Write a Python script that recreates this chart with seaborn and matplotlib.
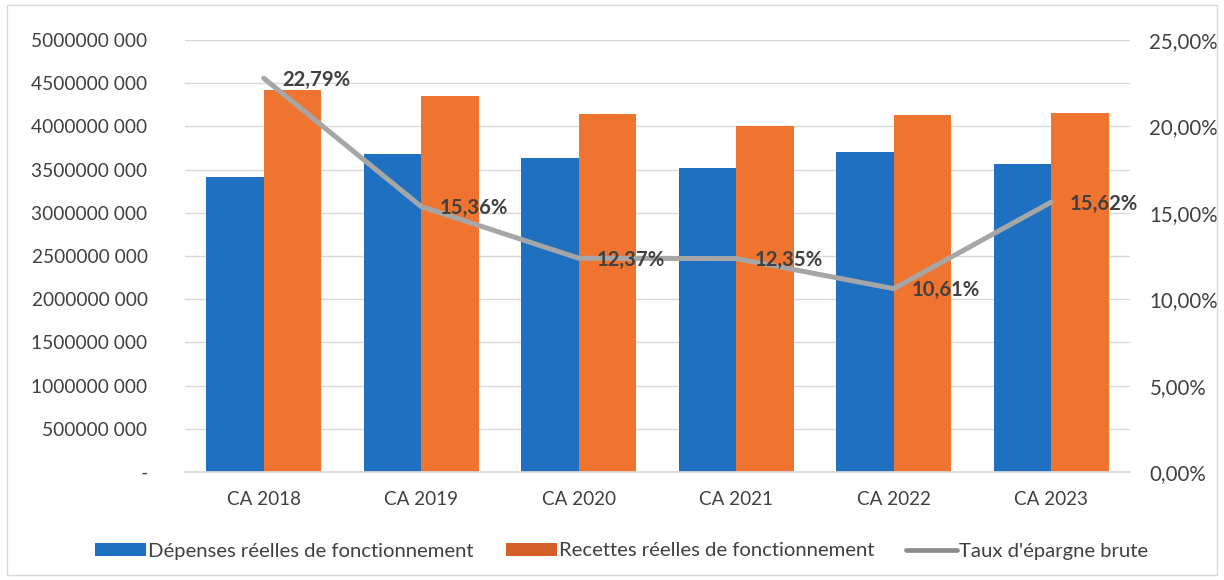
import matplotlib
matplotlib.use("Agg")
import matplotlib.pyplot as plt
from matplotlib.patches import Patch, Rectangle
from matplotlib.lines import Line2D
from matplotlib.ticker import FixedLocator, FuncFormatter
import seaborn as sns
import pandas as pd

# Données du compte administratif
categories = ["CA 2018", "CA 2019", "CA 2020", "CA 2021", "CA 2022", "CA 2023"]
depenses = [3420e6, 3680e6, 3640e6, 3520e6, 3700e6, 3565e6]
recettes = [4420e6, 4355e6, 4140e6, 4010e6, 4130e6, 4160e6]
taux_epargne = [22.79, 15.36, 12.37, 12.35, 10.61, 15.62]

serie_dep = "Dépenses réelles de fonctionnement"
serie_rec = "Recettes réelles de fonctionnement"
serie_taux = "Taux d'épargne brute"

col_dep = "#1F70C1"
col_rec = "#EE7430"
col_taux = "#A6A6A6"
col_txt = "#404040"

df = pd.DataFrame({
    "annee": categories * 2,
    "serie": [serie_dep] * len(categories) + [serie_rec] * len(categories),
    "montant": depenses + recettes,
})

sns.set_theme(style="white")
plt.rcParams["font.family"] = ["Lato", "DejaVu Sans"]
fs_y = 13.8
fs_x = 13.6
fs_pct = 14.8
fs_leg = 14.6
fs_lab = 14.6

fig = plt.figure(figsize=(12.24, 5.80), dpi=100)
fig.patch.set_facecolor("white")
ax = fig.add_axes([185 / 1224, 108 / 580, 945 / 1224, 432 / 580])

sns.barplot(data=df, x="annee", y="montant", hue="serie",
            hue_order=[serie_dep, serie_rec],
            palette=[col_dep, col_rec], width=0.73, saturation=1,
            edgecolor="none", ax=ax, legend=False)

ax.set_ylim(0, 5e9)
ax.set_xlim(-0.5, len(categories) - 0.5)
ax.yaxis.set_major_locator(FixedLocator([i * 5e8 for i in range(11)]))


def fmt_montant(v, pos):
    if v == 0:
        return "-"
    return f"{int(round(v / 1000))} 000"


ax.yaxis.set_major_formatter(FuncFormatter(fmt_montant))
ax.grid(axis="y", color="#D9D9D9", linewidth=1)
ax.set_axisbelow(True)
for s in ["top", "right", "left"]:
    ax.spines[s].set_visible(False)
ax.spines["bottom"].set_color("#D9D9D9")
ax.set_xlabel("")
ax.set_ylabel("")
ax.tick_params(axis="y", length=0, pad=27, labelsize=fs_y, labelcolor=col_txt)
ax.tick_params(axis="x", length=0, pad=14, labelsize=fs_x, labelcolor=col_txt)

# Axe secondaire pour le taux d'épargne
ax2 = ax.twinx()
sns.lineplot(x=categories, y=taux_epargne, sort=False, color=col_taux,
             linewidth=3.6, ax=ax2)
ax2.set_ylim(0, 25)
ax2.yaxis.set_major_locator(FixedLocator([0, 5, 10, 15, 20, 25]))
ax2.yaxis.set_major_formatter(FuncFormatter(lambda v, p: f"{v:.2f}".replace(".", ",") + "%"))
ax2.tick_params(axis="y", length=0, pad=14, labelsize=fs_pct, labelcolor=col_txt)
for s in ax2.spines.values():
    s.set_visible(False)
ax2.set_ylabel("")

for i, t in enumerate(taux_epargne):
    ax2.annotate(f"{t:.2f}".replace(".", ",") + "%", xy=(i, t),
                 xytext=(13, -1), textcoords="offset points",
                 ha="left", va="center", fontsize=fs_lab, fontweight="bold",
                 color=col_txt)

handles = [
    Patch(facecolor=col_dep, edgecolor="none"),
    Patch(facecolor="#D6602A", edgecolor="none"),
    Line2D([0], [0], color="#8C8C8C", linewidth=3.4),
]
fig.legend(handles, [serie_dep, serie_rec, serie_taux], loc="center",
           bbox_to_anchor=(0.508, 29 / 580), ncol=3, frameon=False,
           fontsize=fs_leg, labelcolor=col_txt, handlelength=2.5,
           handleheight=0.65, handletextpad=0.1, columnspacing=1.6)

fig.patches.append(Rectangle((0.006, 0.008), 0.988, 0.984, transform=fig.transFigure,
                             fill=False, edgecolor="#D9D9D9", linewidth=1))

fig.savefig("out.png", dpi=100)
